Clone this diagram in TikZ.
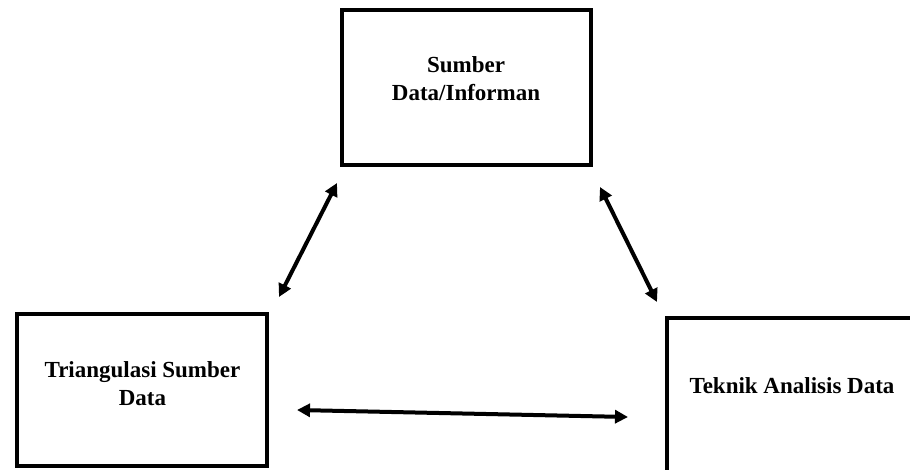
\documentclass[tikz,border=0pt]{standalone}
\usepackage{fontspec}
\setmainfont{Liberation Serif}
\usetikzlibrary{arrows.meta}
\begin{document}
\begin{tikzpicture}[x=1pt,y=-1pt,
  boxstyle/.style={draw=black, line width=4pt, inner sep=0pt},
  labelstyle/.style={font=\fontsize{23}{28}\selectfont\bfseries, align=center, inner sep=0pt},
  linkstyle/.style={line width=4pt, {Triangle[length=13pt,width=13pt]}-{Triangle[length=13pt,width=13pt]}}]
\useasboundingbox (0,0) rectangle (910,470);
\begin{scope}
\clip (0,0) rectangle (910,470);
\node[boxstyle, minimum width=249pt, minimum height=155pt] (top) at (466.5,87.5) {};
\node[boxstyle, minimum width=250pt, minimum height=152pt] (left) at (142,390) {};
\node[boxstyle, minimum width=260pt, minimum height=170pt] (right) at (797,403) {};
\end{scope}
\node[labelstyle] (toptext) at (466,79) {Sumber\\Data/Informan};
\node[labelstyle] (lefttext) at (142.5,384) {Triangulasi Sumber\\Data};
\node[labelstyle] (righttext) at (792,386) {Teknik Analisis Data};
\coordinate (a1) at (279,297);
\coordinate (b1) at (337,183);
\coordinate (a2) at (600,187);
\coordinate (b2) at (657,302);
\coordinate (a3) at (297,410);
\coordinate (b3) at (628,417);
\draw[linkstyle] (a1) -- (b1);
\draw[linkstyle] (a2) -- (b2);
\draw[linkstyle] (a3) -- (b3);
\end{tikzpicture}
\end{document}
